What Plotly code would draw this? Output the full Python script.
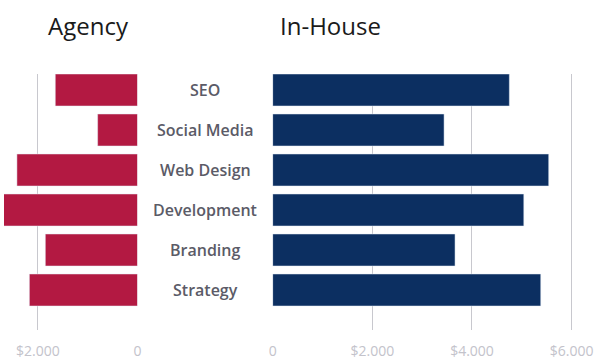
import plotly.graph_objects as go

categories = ["SEO", "Social Media", "Web Design", "Development", "Branding", "Strategy"]
agency = [1650, 800, 2420, 2900, 1850, 2170]
inhouse = [4750, 3440, 5540, 5040, 3660, 5380]
left_ticks = [0, 2000]
left_tick_text = ["0", "$2.000"]
right_ticks = [0, 2000, 4000, 6000]
right_tick_text = ["0", "$2.000", "$4.000", "$6.000"]

RED = "#B31942"
NAVY = "#0C2F61"
GRID = "#C8C8CE"
TICKC = "#C3C3CB"
FONT = "Open Sans"

fig = go.Figure()
fig.add_trace(go.Bar(y=categories, x=agency, orientation="h", marker_color=RED,
                     xaxis="x", yaxis="y", width=0.8, showlegend=False))
fig.add_trace(go.Bar(y=categories, x=inhouse, orientation="h", marker_color=NAVY,
                     xaxis="x2", yaxis="y2", width=0.8, showlegend=False))

W, H = 600, 362
MT, MB = 74, 32
PH = H - MT - MB
left_zero = 135.3
right_zero = 272.3
px_per_unit = 101 / 2000

common_x = dict(showgrid=True, gridcolor=GRID, gridwidth=1, zeroline=False,
                showline=False, ticks="", tickfont=dict(family=FONT, size=14, color=TICKC),
                ticklabelstandoff=11, fixedrange=True)

fig.update_layout(
    width=W, height=H,
    margin=dict(l=0, r=0, t=MT, b=MB),
    paper_bgcolor="white", plot_bgcolor="white",
    font=dict(family=FONT),
    xaxis=dict(domain=[0, left_zero / W], range=[left_zero / px_per_unit, 0],
               tickvals=left_ticks, ticktext=left_tick_text, **common_x),
    xaxis2=dict(domain=[right_zero / W, 1], range=[0, (W - right_zero) / px_per_unit],
                tickvals=right_ticks, ticktext=right_tick_text, **common_x),
    yaxis=dict(domain=[0, 1], range=[6.0, -0.4], showticklabels=False, showgrid=False,
               zeroline=False, categoryorder="array", categoryarray=categories),
    yaxis2=dict(domain=[0, 1], range=[6.0, -0.4], showticklabels=False, showgrid=False,
                zeroline=False, categoryorder="array", categoryarray=categories, anchor="x2"),
    bargap=0.2,
)

for c in categories:
    fig.add_annotation(x=204 / W, xref="paper", y=c, yref="y", text=c, showarrow=False,
                       font=dict(family=FONT, size=16, color="#5B5B67", weight=600),
                       xanchor="center", yanchor="middle")

title_y = 1 + (MT - 25) / PH
fig.add_annotation(x=86 / W, y=title_y, xref="paper", yref="paper", text="Agency",
                   showarrow=False, xanchor="center", yanchor="middle",
                   font=dict(family=FONT, size=24, color="#1A1A1A", weight=500))
fig.add_annotation(x=331 / W, y=title_y, xref="paper", yref="paper", text="In-House",
                   showarrow=False, xanchor="center", yanchor="middle",
                   font=dict(family=FONT, size=24, color="#1A1A1A", weight=500))

fig.write_html("out.html", config={"displayModeBar": False},
               post_script="document.body.style.margin='0';document.body.style.overflow='hidden';")
